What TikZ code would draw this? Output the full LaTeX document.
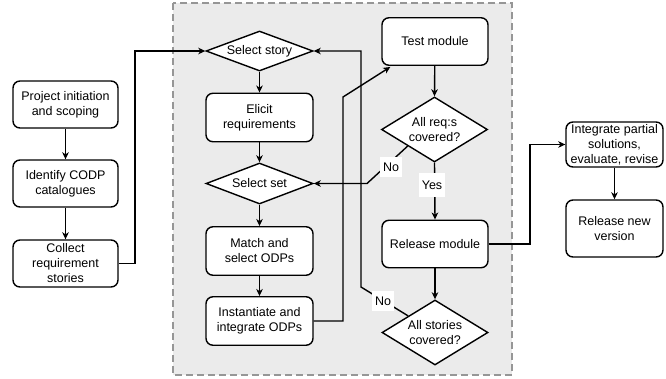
\documentclass[tikz,border=0pt]{standalone}
\usepackage{fontspec}
\setmainfont{Liberation Sans}
\usetikzlibrary{shapes.geometric,arrows.meta}
\definecolor{bgfill}{RGB}{235,235,235}
\definecolor{bgline}{RGB}{150,150,150}
\begin{document}
\begin{tikzpicture}[x=1pt,y=-1pt,
  txt/.style={font=\fontsize{12.5}{15}\selectfont, align=center},
  box/.style={txt, draw, line width=1.4pt, rounded corners=7pt, inner sep=1pt, fill=white},
  leftbox/.style={box, minimum width=105pt, minimum height=47pt},
  midbox/.style={box, minimum width=107pt, minimum height=48.5pt},
  rbox/.style={box, minimum width=106pt, minimum height=47.5pt},
  farbox/.style={box, minimum width=97pt, minimum height=45pt},
  dia/.style={txt, diamond, draw, line width=1.4pt, inner sep=0pt, fill=white},
  arr/.style={draw, line width=1.4pt, -{Stealth[length=7pt,width=6.5pt,inset=2pt]}},
  lbl/.style={txt, fill=white, inner xsep=3pt, inner ysep=4pt, minimum height=20pt}
]
\useasboundingbox (0,0) rectangle (666,378);
\draw[fill=bgfill, draw=bgline, line width=1.3pt, dash pattern=on 7pt off 4pt] (173,3) rectangle (512,375);

% left column
\node[leftbox] (proj) at (65.5,104.5) {Project initiation\\and scoping};
\node[leftbox] (ident) at (65.5,183.5) {Identify CODP\\catalogues};
\node[leftbox] (coll) at (65.5,263.5) {Collect\\requirement\\stories};

% middle column
\node[dia, minimum width=107pt, minimum height=40pt, aspect=2.7] (sstory) at (259.5,51) {Select story};
\node[midbox] (elicit) at (259.5,117.5) {Elicit\\requirements};
\node[dia, minimum width=107pt, minimum height=41pt, aspect=2.6] (sset) at (259.5,183.5) {Select set};
\node[midbox] (match) at (259.5,251) {Match and\\select ODPs};
\node[midbox] (inst) at (259.5,321) {Instantiate and\\integrate ODPs};

% right column
\node[rbox] (test) at (435,41.5) {Test module};
\node[dia, minimum width=106pt, minimum height=65pt, aspect=1.63] (reqs) at (434.5,129.5) {All req:s\\covered?};
\node[rbox] (rel) at (435,244) {Release module};
\node[dia, minimum width=106pt, minimum height=65pt, aspect=1.63] (stories) at (435,332.5) {All stories\\covered?};

% far right
\node[farbox] (integ) at (614.5,144.5) {Integrate partial\\solutions,\\evaluate, revise};
\node[farbox, minimum height=57pt] (relnew) at (614.5,228.5) {Release new\\version};

% bend points
\coordinate (c1) at (135,263.5);
\coordinate (c2) at (135,51);
\coordinate (c3) at (343,321);
\coordinate (c4) at (343,97);
\coordinate (c5) at (367,183.5);
\coordinate (c6) at (361,287);
\coordinate (c7) at (361,51);
\coordinate (c8) at (530,244);
\coordinate (c9) at (530,144.5);

% connectors
\draw[arr] (proj) -- (ident);
\draw[arr] (ident) -- (coll);
\draw[arr] (coll.east) -- (c1) -- (c2) -- (sstory.west);
\draw[arr] (sstory.south) -- (elicit.north);
\draw[arr] (elicit) -- (sset.north);
\draw[arr] (sset.south) -- (match.north);
\draw[arr] (match) -- (inst);
\draw[arr] (inst.east) -- (c3) -- (c4) -- ([xshift=9pt,yshift=-1pt]test.south west);
\draw[arr] (test) -- (reqs.north);
\draw[arr] (reqs.south west) -- (c5) -- (sset.east);
\draw[arr] (reqs.south) -- (rel.north);
\draw[arr] (rel) -- (stories.north);
\draw[arr] (stories.north west) -- (c6) -- (c7) -- (sstory.east);
\draw[arr] (rel.east) -- (c8) -- (c9) -- (integ.west);
\draw[arr] (integ) -- (relnew);

% labels
\node[lbl] (no1) at (391,167) {No};
\node[lbl, minimum height=24pt] (yes) at (432,185) {Yes};
\node[lbl] (no2) at (383,301) {No};
\end{tikzpicture}
\end{document}
